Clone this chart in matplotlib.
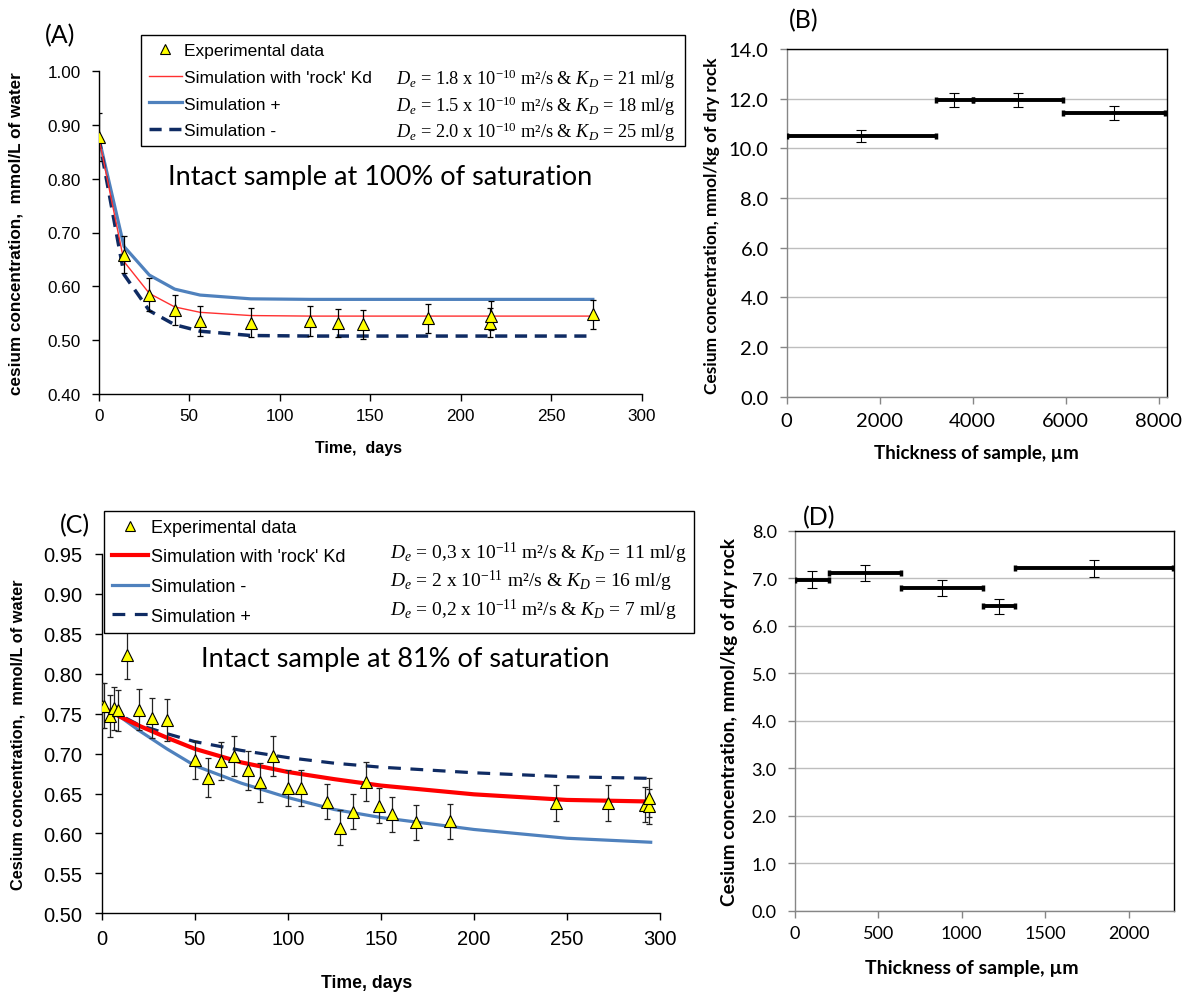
import matplotlib
matplotlib.use('Agg')
import matplotlib.pyplot as plt
from matplotlib.lines import Line2D
from matplotlib.ticker import FormatStrFormatter, MultipleLocator
import numpy as np

plt.rcParams['mathtext.fontset'] = 'custom'
plt.rcParams['mathtext.rm'] = 'Liberation Serif'
plt.rcParams['mathtext.it'] = 'Liberation Serif:italic'

SANS = 'Liberation Sans'
CAL = 'Lato'
SERIF = 'Liberation Serif'

# (A) intact sample, 100% saturation
a_days = [0, 14, 28, 42, 56, 84, 117, 132, 146, 182, 216, 217, 273]
a_conc = [0.877, 0.659, 0.585, 0.557, 0.536, 0.533, 0.536, 0.533, 0.530, 0.541, 0.533, 0.546, 0.548]
a_err = [0.045, 0.034, 0.030, 0.028, 0.028, 0.027, 0.027, 0.026, 0.027, 0.027, 0.027, 0.027, 0.026]
a_sim_days = [0, 14, 28, 42, 56, 84, 117, 132, 146, 182, 217, 273]
a_sim_rock = [0.877, 0.646, 0.587, 0.562, 0.552, 0.546, 0.545, 0.545, 0.545, 0.545, 0.545, 0.545]
a_sim_plus = [0.877, 0.674, 0.621, 0.595, 0.584, 0.577, 0.576, 0.576, 0.576, 0.576, 0.576, 0.576]
a_sim_minus = [0.877, 0.622, 0.555, 0.529, 0.517, 0.509, 0.508, 0.508, 0.508, 0.508, 0.508, 0.508]
a_formulas = [r'$D_e$ = 1.8 x 10$^{-10}$ m²/s & $K_D$ = 21 ml/g',
              r'$D_e$ = 1.5 x 10$^{-10}$ m²/s & $K_D$ = 18 ml/g',
              r'$D_e$ = 2.0 x 10$^{-10}$ m²/s & $K_D$ = 25 ml/g']

# (B) profile in rock, 100% saturation
b_from = [0, 3204, 4000, 5949]
b_to = [3204, 4000, 5949, 8135]
b_conc = [10.50, 11.94, 11.94, 11.44]
b_err = [0.25, 0.29, 0.27, 0.28]

# (C) intact sample, 81% saturation
c_days = [0, 1.5, 4.7, 6.6, 9, 13.5, 20, 27, 35, 50, 57, 64, 71, 78.5, 85, 92, 100, 107,
          121, 128, 135, 142, 149, 156, 169, 187, 244, 272, 292, 294, 294]
c_conc = [0.760, 0.760, 0.747, 0.757, 0.754, 0.823, 0.755, 0.745, 0.742, 0.692, 0.670, 0.691,
          0.697, 0.679, 0.664, 0.697, 0.657, 0.657, 0.640, 0.607, 0.627, 0.665, 0.635, 0.624,
          0.614, 0.615, 0.638, 0.638, 0.636, 0.634, 0.645]
c_err = [0.028, 0.028, 0.026, 0.027, 0.026, 0.029, 0.026, 0.025, 0.026, 0.024, 0.024, 0.024,
         0.025, 0.024, 0.024, 0.025, 0.022, 0.022, 0.022, 0.022, 0.022, 0.024, 0.022, 0.022,
         0.022, 0.022, 0.023, 0.023, 0.022, 0.022, 0.024]
c_sim_days = [2, 10, 20, 35, 50, 75, 100, 125, 150, 200, 250, 295]
c_sim_rock = [0.756, 0.746, 0.735, 0.720, 0.706, 0.689, 0.677, 0.668, 0.660, 0.649, 0.642, 0.640]
c_sim_minus = [0.756, 0.746, 0.729, 0.706, 0.685, 0.663, 0.645, 0.630, 0.620, 0.605, 0.594, 0.589]
c_sim_plus = [0.756, 0.748, 0.736, 0.725, 0.715, 0.704, 0.695, 0.688, 0.683, 0.676, 0.671, 0.669]
c_formulas = [r'$D_e$ = 0,3 x 10$^{-11}$ m²/s & $K_D$ = 11 ml/g',
              r'$D_e$ = 2 x 10$^{-11}$ m²/s & $K_D$ = 16 ml/g',
              r'$D_e$ = 0,2 x 10$^{-11}$ m²/s & $K_D$ = 7 ml/g']

# (D) profile in rock, 81% saturation
d_from = [0, 207, 635, 1127, 1321]
d_to = [207, 635, 1127, 1321, 2267]
d_conc = [6.97, 7.11, 6.79, 6.41, 7.21]
d_err = [0.175, 0.17, 0.17, 0.16, 0.18]

RED = '#FF0000'
BLUE = '#4F81BD'
NAVY = '#0F2B63'
YEL = '#FFFF00'

W, H = 1184, 995
fig = plt.figure(figsize=(W / 100, H / 100), dpi=100)


def px(x0, y0, x1, y1):
    return [x0 / W, 1 - y1 / H, (x1 - x0) / W, (y1 - y0) / H]


def style_time_axes(ax, fs, ypad, xpad):
    for s in ['top', 'right']:
        ax.spines[s].set_visible(False)
    for s in ['left', 'bottom']:
        ax.spines[s].set_color('black')
        ax.spines[s].set_linewidth(1.0)
    ax.tick_params(axis='y', direction='out', length=5, width=1, labelsize=fs, pad=ypad)
    ax.tick_params(axis='x', direction='out', length=5, width=1, labelsize=fs, pad=xpad)
    for lab in ax.get_xticklabels() + ax.get_yticklabels():
        lab.set_family(SANS)


def style_profile_axes(ax, fs, ypad, xpad):
    for s in ['left', 'bottom']:
        ax.spines[s].set_color('#868686')
    for s in ['top', 'right']:
        ax.spines[s].set_color('black')
    for s in ax.spines.values():
        s.set_linewidth(1.0)
    ax.grid(axis='y', color='#BEBEBE', lw=1.0)
    ax.set_axisbelow(True)
    ax.tick_params(axis='y', direction='out', length=5, width=1, color='#868686', labelsize=fs, pad=ypad)
    ax.tick_params(axis='x', direction='out', length=5, width=1, color='#868686', labelsize=fs, pad=xpad)
    for lab in ax.get_xticklabels() + ax.get_yticklabels():
        lab.set_family(CAL)


# ---------- (A)
axA = fig.add_axes(px(98.7, 71.7, 641.7, 395.3))
axA.plot(a_sim_days, a_sim_plus, color=BLUE, lw=2.3, zorder=2)
axA.plot(a_sim_days, a_sim_rock, color='#FF3030', lw=1.0, zorder=3)
axA.plot(a_sim_days, a_sim_minus, color=NAVY, lw=2.5, dashes=(3.5, 2.2), zorder=2)
axA.errorbar(a_days, a_conc, yerr=a_err, fmt='none', ecolor='black', elinewidth=0.9,
             capsize=2.5, capthick=0.9, zorder=4)
axA.plot(a_days, a_conc, ls='none', marker='^', ms=8, mfc=YEL, mec='black', mew=0.8, zorder=5)
axA.set_xlim(0, 300)
axA.set_ylim(0.40, 1.00)
axA.xaxis.set_major_locator(MultipleLocator(50))
axA.yaxis.set_major_locator(MultipleLocator(0.10))
axA.yaxis.set_major_formatter(FormatStrFormatter('%.2f'))
style_time_axes(axA, 12.3, 8, 5)
axA.set_xlabel('Time,  days', family=SANS, weight='bold', size=11.5)
axA.xaxis.set_label_coords(0.478, -0.142)
axA.set_ylabel('cesium concentration,  mmol/L of water', family=SANS, weight='bold', size=12.3)
axA.yaxis.set_label_coords(-0.139, 0.5)

handlesA = [Line2D([], [], ls='none', marker='^', ms=7, mfc=YEL, mec='black', mew=0.8),
            Line2D([], [], color='#FF3030', lw=1.0),
            Line2D([], [], color=BLUE, lw=2.3),
            Line2D([], [], color=NAVY, lw=2.5, dashes=(3.5, 2.2))]
labelsA = ['Experimental data', "Simulation with 'rock' Kd", 'Simulation +', 'Simulation -']
legA = axA.legend(handlesA, labelsA, loc='upper left',
                  bbox_to_anchor=((141) / W, 1 - 146.7 / H, (685 - 141) / W, (146.7 - 36) / H),
                  bbox_transform=fig.transFigure, mode='expand', borderaxespad=0,
                  fancybox=False, edgecolor='black', framealpha=1,
                  prop={'family': SANS, 'size': 12.5}, handlelength=1.9, handletextpad=0.15,
                  labelspacing=0.67, borderpad=0.45)
legA.get_frame().set_linewidth(1.0)
for txt, yy in zip(a_formulas, [79, 106, 132]):
    fig.text(396 / W, 1 - yy / H, txt, family=SERIF, size=13.2, ha='left', va='center')
fig.text(380 / W, 1 - 178 / H, 'Intact sample at 100% of saturation', family=CAL,
         size=19.5, ha='center', va='center')
fig.text(60 / W, 1 - 36 / H, '(A)', family=CAL, size=18, ha='center', va='center')

# ---------- (B)
axB = fig.add_axes(px(786.7, 50, 1166.7, 397.7))
b_mid = [(a + b) / 2 for a, b in zip(b_from, b_to)]
b_half = [(b - a) / 2 for a, b in zip(b_from, b_to)]
axB.errorbar(b_mid, b_conc, xerr=b_half, fmt='none', ecolor='black', elinewidth=2.8,
             capsize=2.5, capthick=2.5, zorder=3)
axB.errorbar(b_mid, b_conc, yerr=b_err, fmt='none', ecolor='black', elinewidth=0.8,
             capsize=3.5, capthick=0.8, zorder=4)
axB.set_xlim(0, 8172)
axB.set_ylim(0, 14)
axB.xaxis.set_major_locator(MultipleLocator(2000))
axB.yaxis.set_major_locator(MultipleLocator(2))
axB.yaxis.set_major_formatter(FormatStrFormatter('%.1f'))
style_profile_axes(axB, 14.5, 8, 6)
axB.set_xlabel('Thickness of sample, µm', family=CAL, weight='bold', size=13.5)
axB.xaxis.set_label_coords(0.5, -0.136)
axB.set_ylabel('Cesium concentration, mmol/kg of dry rock', family=CAL, weight='bold', size=12.5)
axB.yaxis.set_label_coords(-0.176, 0.495)
fig.text(804 / W, 1 - 21 / H, '(B)', family=CAL, size=18, ha='center', va='center')

# ---------- (C)
axC = fig.add_axes(px(101.7, 555, 660, 914.3))
axC.plot(c_sim_days, c_sim_minus, color=BLUE, lw=2.3, zorder=2)
axC.plot(c_sim_days, c_sim_plus, color=NAVY, lw=2.3, dashes=(4, 3), zorder=2)
axC.plot(c_sim_days, c_sim_rock, color=RED, lw=3.0, zorder=3)
axC.errorbar(c_days, c_conc, yerr=c_err, fmt='none', ecolor='#222222', elinewidth=0.9,
             capsize=2.5, capthick=0.9, zorder=4)
axC.plot(c_days, c_conc, ls='none', marker='^', ms=8.5, mfc=YEL, mec='black', mew=0.8, zorder=5)
axC.set_xlim(0, 300)
axC.set_ylim(0.50, 0.95)
axC.xaxis.set_major_locator(MultipleLocator(50))
axC.yaxis.set_major_locator(MultipleLocator(0.05))
axC.yaxis.set_major_formatter(FormatStrFormatter('%.2f'))
style_time_axes(axC, 14.5, 9, 6)
axC.set_xlabel('Time, days', family=SANS, weight='bold', size=12.7)
axC.xaxis.set_label_coords(0.475, -0.168)
axC.set_ylabel('Cesium concentration,  mmol/L of water', family=SANS, weight='bold', size=11.8)
axC.yaxis.set_label_coords(-0.137, 0.5)

handlesC = [Line2D([], [], ls='none', marker='^', ms=7, mfc=YEL, mec='black', mew=0.8),
            Line2D([], [], color=RED, lw=3.0),
            Line2D([], [], color=BLUE, lw=2.3),
            Line2D([], [], color=NAVY, lw=2.3, dashes=(4, 3))]
labelsC = ['Experimental data', "Simulation with 'rock' Kd", 'Simulation -', 'Simulation +']
legC = axC.legend(handlesC, labelsC, loc='upper left',
                  bbox_to_anchor=(104 / W, 1 - 630 / H, (694 - 104) / W, (630 - 511.7) / H),
                  bbox_transform=fig.transFigure, mode='expand', borderaxespad=0,
                  fancybox=False, edgecolor='black', framealpha=1,
                  prop={'family': SANS, 'size': 13}, handlelength=2.0, handletextpad=0.15,
                  labelspacing=0.70, borderpad=0.45)
legC.get_frame().set_linewidth(1.0)
for txt, yy in zip(c_formulas, [553, 581, 610]):
    fig.text(390 / W, 1 - yy / H, txt, family=SERIF, size=14, ha='left', va='center')
fig.text(405 / W, 1 - 660 / H, 'Intact sample at 81% of saturation', family=CAL,
         size=19.5, ha='center', va='center')
fig.text(75 / W, 1 - 526 / H, '(C)', family=CAL, size=18, ha='center', va='center')

# ---------- (D)
axD = fig.add_axes(px(794.7, 531.7, 1174, 911.7))
d_mid = [(a + b) / 2 for a, b in zip(d_from, d_to)]
d_half = [(b - a) / 2 for a, b in zip(d_from, d_to)]
axD.errorbar(d_mid, d_conc, xerr=d_half, fmt='none', ecolor='black', elinewidth=2.8,
             capsize=2.5, capthick=2.5, zorder=3)
axD.errorbar(d_mid, d_conc, yerr=d_err, fmt='none', ecolor='black', elinewidth=0.8,
             capsize=3.5, capthick=0.8, zorder=4)
axD.set_xlim(0, 2271)
axD.set_ylim(0, 8)
axD.xaxis.set_major_locator(MultipleLocator(500))
axD.yaxis.set_major_locator(MultipleLocator(1))
axD.yaxis.set_major_formatter(FormatStrFormatter('%.1f'))
style_profile_axes(axD, 13, 8, 5)
axD.set_xlabel('Thickness of sample, µm', family=CAL, weight='bold', size=14)
axD.xaxis.set_label_coords(0.467, -0.127)
axD.set_ylabel('Cesium concentration, mmol/kg of dry rock', family=CAL, weight='bold', size=13.7)
axD.yaxis.set_label_coords(-0.15, 0.5)
fig.text(819 / W, 1 - 518 / H, '(D)', family=CAL, size=18, ha='center', va='center')

fig.savefig('out.png', dpi=100)
